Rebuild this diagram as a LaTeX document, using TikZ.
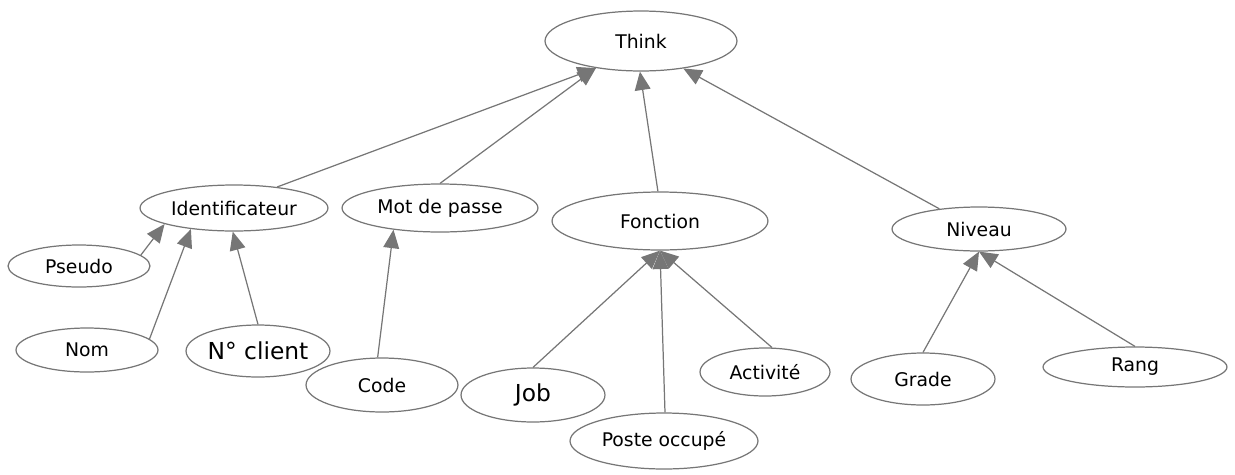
\documentclass[tikz,border=0pt]{standalone}
\usepackage{fontspec}
\setmainfont{DejaVu Sans}
\usepackage{tikz}
\usetikzlibrary{shapes.geometric,arrows.meta}
\definecolor{edgegray}{HTML}{767676}

\begin{document}
\begin{tikzpicture}[x=0.02cm,y=-0.02cm,
	attr/.style={ellipse,draw=edgegray,line width=0.7pt,inner sep=0pt,font=\fontsize{10.7pt}{12pt}\selectfont},
	big/.style={font=\fontsize{13.3pt}{15pt}\selectfont},
	sz/.style 2 args={minimum width=#1*0.04cm,minimum height=#2*0.04cm},
	link/.style={draw=edgegray,line width=0.7pt,-{Triangle[length=10.5pt,width=9pt]}}]
	\useasboundingbox (0,0) rectangle (1235,474);
	% root
	\node[attr,sz={96}{30}] (think) at (641,41) {Think};
	% first level
	\node[attr,sz={94}{23}] (ident) at (234,208) {Identificateur};
	\node[attr,sz={98}{24}] (mdp) at (440,208) {Mot de passe};
	\node[attr,sz={108}{29}] (fonc) at (660,221) {Fonction};
	\node[attr,sz={87}{22}] (niv) at (979,229) {Niveau};
	% leaves
	\node[attr,sz={71}{21}] (pseudo) at (79,266) {Pseudo};
	\node[attr,sz={71}{22}] (nom) at (87,350) {Nom};
	\node[attr,big,sz={72}{26}] (ncli) at (258,351) {N° client};
	\node[attr,sz={76}{27}] (code) at (382,385) {Code};
	\node[attr,big,sz={72}{27}] (job) at (533,395) {Job};
	\node[attr,sz={94}{28}] (poste) at (664,441) {Poste occupé};
	\node[attr,sz={65}{24}] (activ) at (765,372) {Activité};
	\node[attr,sz={72}{26}] (grade) at (923,379) {Grade};
	\node[attr,sz={92}{20}] (rang) at (1135,367) {Rang};
	% links to the root
	\draw[link] (ident.26) -- (think.211);
	\draw[link] (mdp.90) -- (think.211);
	\draw[link] (fonc.94) -- (think.268);
	\draw[link] (niv.153) -- (think.327);
	% links to the first level
	\draw[link] (pseudo.10) -- (ident.193);
	\draw[link] (nom.10) -- (ident.206);
	\draw[link] (ncli.90) -- (ident.267);
	\draw[link] (code.99) -- (mdp.205);
	\draw[link] (job.90) -- (fonc.270);
	\draw[link] (poste.88) -- (fonc.270);
	\draw[link] (activ.74) -- (fonc.270);
	\draw[link] (grade.90) -- (niv.270);
	\draw[link] (rang.90) -- (niv.270);
\end{tikzpicture}
\end{document}
